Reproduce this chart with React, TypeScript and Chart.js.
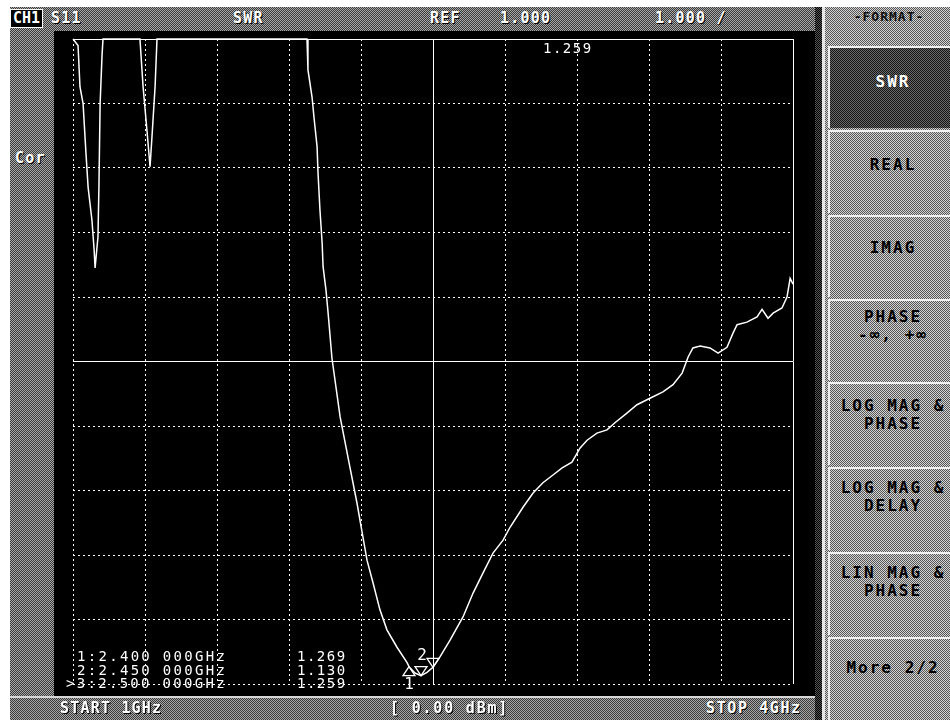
import React, { useEffect, useRef } from "react";
import { Chart, registerables } from "chart.js";

Chart.register(...registerables);

// ---- trace data (frequency in GHz, SWR) ----
const freqGHz = [
  1.0, 1.021, 1.029, 1.042, 1.054, 1.063, 1.079, 1.088, 1.092, 1.104,
  1.108, 1.113, 1.121, 1.125, 1.279, 1.292, 1.308, 1.321, 1.329, 1.342,
  1.35, 1.975, 1.979, 1.996, 2.004, 2.017, 2.021, 2.029, 2.038, 2.042,
  2.054, 2.063, 2.079, 2.113, 2.154, 2.183, 2.208, 2.225, 2.25, 2.279,
  2.308, 2.35, 2.392, 2.4, 2.425, 2.45, 2.475, 2.5, 2.529, 2.571,
  2.625, 2.667, 2.708, 2.75, 2.792, 2.821, 2.875, 2.917, 2.958, 3.0,
  3.038, 3.079, 3.113, 3.142, 3.183, 3.225, 3.258, 3.308, 3.35, 3.404,
  3.458, 3.5, 3.538, 3.563, 3.583, 3.613, 3.654, 3.688, 3.725, 3.75,
  3.767, 3.808, 3.85, 3.871, 3.896, 3.917, 3.954, 3.975, 3.988, 3.996,
  4.0,
];
const swr = [
  11, 10.9, 10.26, 10.0, 9.23, 8.7, 8.19, 7.73, 7.45, 7.93,
  8.7, 10.0, 10.75, 11, 11, 10.26, 9.59, 9.02, 9.48, 10.26,
  11, 11, 10.52, 10.1, 9.79, 9.33, 8.92, 8.35, 7.84, 7.47,
  7.11, 6.75, 6.05, 5.14, 4.36, 3.81, 3.28, 2.92, 2.57, 2.15,
  1.84, 1.57, 1.33, 1.269, 1.17, 1.13, 1.18, 1.259, 1.42, 1.68,
  2.04, 2.41, 2.72, 3.03, 3.23, 3.43, 3.74, 3.96, 4.12, 4.24,
  4.35, 4.44, 4.66, 4.78, 4.89, 4.94, 5.05, 5.2, 5.33, 5.43,
  5.53, 5.64, 5.82, 6.07, 6.21, 6.24, 6.21, 6.13, 6.22, 6.44,
  6.57, 6.61, 6.69, 6.81, 6.67, 6.75, 6.83, 7.0, 7.29, 7.23,
  7.2,
];

// ---- markers ----
const markerNames = ["1", "2", "3"];
const markerFreqGHz = [2.4, 2.45, 2.5];
const markerSwr = [1.269, 1.13, 1.259];
const markerFreqText = ["2.400 000GHz", "2.450 000GHz", "2.500 000GHz"];
const markerSwrText = ["1.269", "1.130", "1.259"];
const activeMarker = 2;

// ---- axes ----
const xTickValues = [1.0, 1.3, 1.6, 1.9, 2.2, 2.5, 2.8, 3.1, 3.4, 3.7, 4.0];
const yTickValues = [1, 2, 3, 4, 5, 6, 7, 8, 9, 10, 11];
const solidXTicks = [2.5, 4.0];
const solidYTicks = [6, 11];

// ---- menu ----
const menuButtons = [
  ["SWR"],
  ["REAL"],
  ["IMAG"],
  ["PHASE", "-\u221E, +\u221E"],
  ["LOG MAG &", "PHASE"],
  ["LOG MAG &", "DELAY"],
  ["LIN MAG &", "PHASE"],
  ["More 2/2"],
];

const MONO = '"DejaVu Sans Mono", "Liberation Mono", monospace';

const dither = (a: string, b: string): React.CSSProperties => ({
  backgroundColor: b,
  backgroundImage: `repeating-conic-gradient(${a} 0% 25%, ${b} 0% 50%)`,
  backgroundSize: "2px 2px",
});

const markerPlugin = {
  id: "markerSymbols",
  afterDatasetsDraw(chart: any) {
    const { ctx, scales } = chart;
    const xs = scales.x;
    const ys = scales.y;
    ctx.save();
    ctx.strokeStyle = "#ffffff";
    ctx.fillStyle = "#ffffff";
    ctx.lineWidth = 1.3;
    ctx.font = `16px ${MONO}`;
    ctx.textAlign = "center";
    ctx.textBaseline = "middle";
    markerNames.forEach((name, i) => {
      const px = xs.getPixelForValue(markerFreqGHz[i]);
      const py = ys.getPixelForValue(markerSwr[i]);
      const s = 6;
      ctx.beginPath();
      if (i === 0) {
        // upward triangle, apex on trace
        ctx.moveTo(px, py);
        ctx.lineTo(px - s, py + s * 1.5);
        ctx.lineTo(px + s, py + s * 1.5);
        ctx.closePath();
        ctx.stroke();
        ctx.fillText(name, px, py + 18);
      } else {
        // downward triangle, tip on trace
        ctx.moveTo(px, py);
        ctx.lineTo(px - s, py - s * 1.5);
        ctx.lineTo(px + s, py - s * 1.5);
        ctx.closePath();
        ctx.stroke();
        if (i === 1) ctx.fillText(name, px + 1, py - 20);
      }
    });
    ctx.restore();
  },
};

function VnaChart() {
  const ref = useRef<HTMLCanvasElement | null>(null);
  useEffect(() => {
    if (!ref.current) return;
    const dashFor = (solid: number[]) => (c: any) =>
      c.tick && solid.some((v) => Math.abs(v - c.tick.value) < 1e-6) ? [] : [2, 3];
    const chart = new Chart(ref.current, {
      type: "line",
      data: {
        datasets: [
          {
            label: "S11 SWR",
            data: freqGHz.map((f, i) => ({ x: f, y: swr[i] })),
            borderColor: "#ffffff",
            borderWidth: 1.5,
            pointRadius: 0,
            tension: 0,
            clip: 4,
          },
        ],
      },
      options: {
        animation: false,
        responsive: false,
        devicePixelRatio: 1,
        events: [],
        layout: { padding: { left: 15, top: 8, right: 22, bottom: 12 } },
        plugins: {
          legend: { display: false },
          tooltip: { enabled: false },
          title: { display: false },
        },
        scales: {
          x: {
            type: "linear",
            min: 1,
            max: 4,
            afterBuildTicks: (s: any) => {
              s.ticks = xTickValues.map((v) => ({ value: v }));
            },
            afterFit: (s: any) => {
              s.height = 0;
            },
            ticks: { display: false },
            grid: { color: "#ffffff", lineWidth: 1, drawTicks: false },
            border: { display: false, dash: dashFor(solidXTicks) as any },
          },
          y: {
            type: "linear",
            min: 1,
            max: 11,
            afterBuildTicks: (s: any) => {
              s.ticks = yTickValues.map((v) => ({ value: v }));
            },
            afterFit: (s: any) => {
              s.width = 0;
            },
            ticks: { display: false },
            grid: { color: "#ffffff", lineWidth: 1, drawTicks: false },
            border: { display: false, dash: dashFor(solidYTicks) as any },
          },
        },
      },
      plugins: [markerPlugin],
    } as any);
    return () => chart.destroy();
  }, []);
  return (
    <canvas
      ref={ref}
      width={757}
      height={665}
      style={{ position: "absolute", left: 58, top: 31, width: 757, height: 665 }}
    />
  );
}

const abs = (left: number, top: number, extra: React.CSSProperties = {}): React.CSSProperties => ({
  position: "absolute",
  left,
  top,
  whiteSpace: "pre",
  ...extra,
});

export default function App() {
  const barText: React.CSSProperties = {
    color: "#ffffff",
    fontFamily: MONO,
    fontWeight: "bold",
    fontSize: 15,
    lineHeight: "17px",
    letterSpacing: 1.2,
    textShadow: "1px 1px 0 #000",
  };
  const markText: React.CSSProperties = {
    color: "#ffffff",
    fontFamily: MONO,
    fontSize: 14,
    lineHeight: "14px",
    letterSpacing: 2.3,
  };
  const menuText: React.CSSProperties = {
    color: "#000000",
    fontFamily: MONO,
    fontWeight: "bold",
    fontSize: 16,
    lineHeight: "18px",
    letterSpacing: 2,
    textAlign: "center",
    width: 126,
  };
  const btnTops = [46, 130, 215, 299, 382, 467, 552, 637];
  const btnHeights = [82, 83, 82, 81, 83, 83, 83, 83];
  const labelOffsets = [25, 24, 22, 7, 13, 10, 10, 20];
  return (
    <div
      style={{
        position: "absolute",
        left: 0,
        top: 0,
        width: 950,
        height: 720,
        overflow: "hidden",
        background: "#ffffff",
        fontFamily: MONO,
      }}
    >
      {/* top bar */}
      <div style={{ ...abs(10, 7), width: 806, height: 24, ...dither("#a8a8a8", "#3a3a3a") }} />
      {/* left strip */}
      <div style={{ ...abs(10, 31), width: 44, height: 666, ...dither("#a8a8a8", "#3a3a3a") }} />
      {/* plot background */}
      <div style={{ ...abs(54, 31), width: 768, height: 665, background: "#000" }} />
      <VnaChart />
      {/* bottom bar */}
      <div
        style={{
          ...abs(10, 696),
          width: 812,
          height: 24,
          ...dither("#a8a8a8", "#3a3a3a"),
          borderTop: "2px solid #d8d8d8",
          boxSizing: "border-box",
        }}
      />
      {/* separator */}
      <div style={{ ...abs(815, 7), width: 8, height: 713, ...dither("#555", "#000") }} />
      <div style={{ ...abs(822, 7), width: 3, height: 713, background: "#e6e6e6" }} />
      {/* right panel */}
      <div style={{ ...abs(825, 7), width: 125, height: 713, ...dither("#d4d4d4", "#555555") }} />
      <div style={{ ...abs(826, 8), ...menuText, fontSize: 13, letterSpacing: 1, color: "#111" }}>
        {"-FORMAT-"}
      </div>
      {menuButtons.map((lines, i) => (
        <div
          key={i}
          style={{
            ...abs(828, btnTops[i]),
            width: 122,
            height: btnHeights[i],
            boxSizing: "border-box",
            borderTop: "2px solid #f0f0f0",
            borderLeft: "2px solid #f0f0f0",
            ...(i === 0 ? dither("#6a6a6a", "#141414") : {}),
          }}
        >
          <div
            style={{
              ...abs(0, labelOffsets[i]),
              ...menuText,
              color: i === 0 ? "#ffffff" : "#000000",
            }}
          >
            {lines.join("\n")}
          </div>
        </div>
      ))}

      {/* top bar texts */}
      <div
        style={{
          ...abs(10, 9),
          ...barText,
          background: "#000",
          border: "1px solid #fff",
          padding: "0 2px",
          letterSpacing: 0,
        }}
      >
        CH1
      </div>
      <div style={{ ...abs(51, 10), ...barText }}>S11</div>
      <div style={{ ...abs(233, 10), ...barText }}>SWR</div>
      <div style={{ ...abs(430, 10), ...barText }}>REF</div>
      <div style={{ ...abs(500, 10), ...barText }}>1.000</div>
      <div style={{ ...abs(655, 10), ...barText }}>1.000 /</div>

      {/* left strip label */}
      <div style={{ ...abs(15, 150), ...barText }}>Cor</div>

      {/* active marker readout */}
      <div style={{ ...abs(543, 41), ...markText, letterSpacing: 1.5 }}>{markerSwrText[activeMarker]}</div>

      {/* marker table */}
      {markerNames.map((n, i) => (
        <React.Fragment key={n}>
          <div style={{ ...abs(i === activeMarker ? 66 : 77, 649 + i * 13.5), ...markText }}>
            {(i === activeMarker ? ">" : "") + n + ":" + markerFreqText[i]}
          </div>
          <div style={{ ...abs(297, 649 + i * 13.5), ...markText, letterSpacing: 1.5 }}>
            {markerSwrText[i]}
          </div>
        </React.Fragment>
      ))}

      {/* bottom bar texts */}
      <div style={{ ...abs(60, 700), ...barText }}>START 1GHz</div>
      <div style={{ ...abs(390, 700), ...barText, letterSpacing: 1.8 }}>[ 0.00 dBm]</div>
      <div style={{ ...abs(706, 700), ...barText, letterSpacing: 1.6 }}>STOP 4GHz</div>
    </div>
  );
}
